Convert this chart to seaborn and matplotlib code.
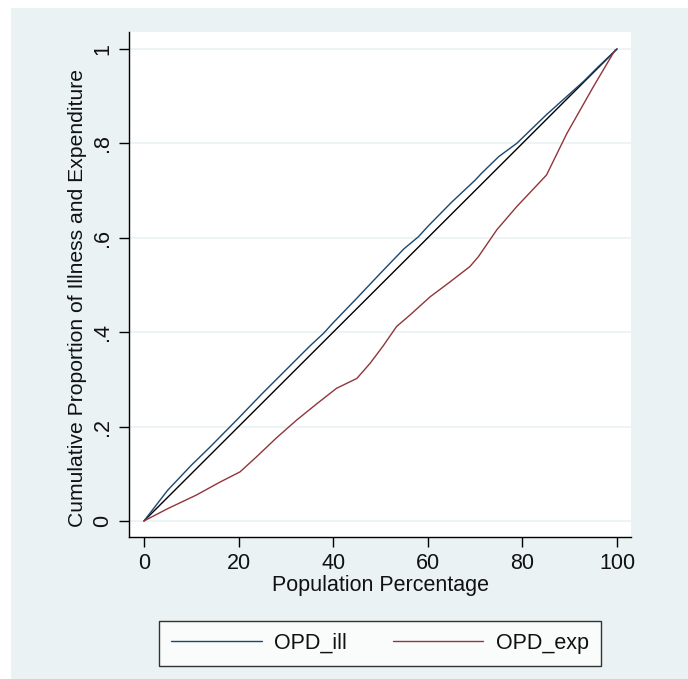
import numpy as np
import pandas as pd
import matplotlib
matplotlib.use("Agg")
import matplotlib.pyplot as plt
import seaborn as sns
from matplotlib.patches import Rectangle
from matplotlib.lines import Line2D

# ---- data ----
ill_x = [0, 2, 5, 10, 14, 20, 25, 30, 35, 38, 40, 45, 50, 55, 58, 60, 65, 70, 71.4, 75, 78.8, 85, 90, 93, 96, 100]
ill_y = [0, 0.026, 0.065, 0.118, 0.157, 0.218, 0.27, 0.32, 0.37, 0.398, 0.42, 0.472, 0.525, 0.577, 0.602, 0.624, 0.675, 0.722, 0.737, 0.772, 0.80, 0.86, 0.905, 0.932, 0.962, 1.0]
exp_x = [0, 5, 11.1, 16, 20.3, 23.8, 28, 32.3, 36.5, 40.7, 45, 47.8, 50.5, 53.4, 56.2, 60.5, 64.5, 68.9, 70.7, 74.6, 78.8, 82, 85.1, 89.4, 95, 99.6]
exp_y = [0, 0.026, 0.055, 0.082, 0.104, 0.136, 0.176, 0.214, 0.248, 0.281, 0.302, 0.334, 0.37, 0.412, 0.436, 0.475, 0.505, 0.539, 0.56, 0.617, 0.666, 0.70, 0.733, 0.821, 0.92, 0.998]
eq_x = [0, 100]
eq_y = [0, 1]

x_ticks = [0, 20, 40, 60, 80, 100]
y_ticks = [0, 0.2, 0.4, 0.6, 0.8, 1.0]
y_ticklabels = ["0", ".2", ".4", ".6", ".8", "1"]
series_names = ["OPD_ill", "OPD_exp"]

df = pd.concat([
    pd.DataFrame({"pop": ill_x, "val": ill_y, "series": series_names[0]}),
    pd.DataFrame({"pop": exp_x, "val": exp_y, "series": series_names[1]}),
], ignore_index=True)
eq_df = pd.DataFrame({"pop": eq_x, "val": eq_y})

sns.set_theme(style="white")
plt.rcParams["font.family"] = ["Liberation Sans", "DejaVu Sans"]

FS = 15.5
TXT = "#111111"
BG = "#eaf2f3"
fig = plt.figure(figsize=(6.88, 6.79), dpi=100, facecolor="white")
fig.patches.append(Rectangle((11 / 688, 0), 1 - 11 / 688, 1 - 8 / 679,
                             transform=fig.transFigure, facecolor=BG,
                             edgecolor="none", zorder=-10))

ax = fig.add_axes([129 / 688, 1 - 537 / 679, 502 / 688, 505 / 679])
ax.set_facecolor("white")

sns.lineplot(data=df, x="pop", y="val", hue="series",
             palette={"OPD_ill": "#1a476f", "OPD_exp": "#90353b"},
             linewidth=1.0, ax=ax, legend=False, zorder=3, estimator=None, sort=False)
sns.lineplot(data=eq_df, x="pop", y="val", color="black", linewidth=1.0,
             ax=ax, legend=False, zorder=2)

ax.set_xlim(-3.17, 102.96)
ax.set_ylim(-0.034, 1.036)
ax.set_xticks(x_ticks)
ax.set_xticklabels([str(t) for t in x_ticks], fontsize=FS)
ax.set_yticks(y_ticks)
ax.set_yticklabels(y_ticklabels, fontsize=FS, rotation=90, va="center")

ax.yaxis.grid(True, color=BG, linewidth=1.2)
ax.xaxis.grid(False)
ax.set_axisbelow(True)

for s in ["top", "right"]:
    ax.spines[s].set_visible(False)
for s in ["left", "bottom"]:
    ax.spines[s].set_color("black")
    ax.spines[s].set_linewidth(1.0)

ax.tick_params(axis="both", direction="out", length=7.5, width=1, color="black",
               left=True, bottom=True, pad=4, labelcolor=TXT)

ax.set_xlabel("Population Percentage", fontsize=FS, labelpad=1, color=TXT)
ax.set_ylabel("Cumulative Proportion of Illness and Expenditure", fontsize=15.2,
              labelpad=2, color=TXT)
ax.yaxis.set_label_coords(-0.084, 0.473)

handles = [Line2D([], [], color="#1a476f", lw=1.0),
           Line2D([], [], color="#90353b", lw=1.0)]
leg = fig.legend(handles, series_names, loc="center", ncol=2,
                 bbox_to_anchor=(380 / 688, 1 - 643.5 / 679),
                 frameon=True, fancybox=False, fontsize=FS,
                 handlelength=4.2, handletextpad=0.6, columnspacing=2.1,
                 borderpad=0.55, borderaxespad=0)
leg.get_frame().set_edgecolor("black")
leg.get_frame().set_linewidth(1.0)
leg.get_frame().set_facecolor("white")
for t in leg.get_texts():
    t.set_color(TXT)

fig.savefig("out.png", dpi=100, facecolor=fig.get_facecolor())
